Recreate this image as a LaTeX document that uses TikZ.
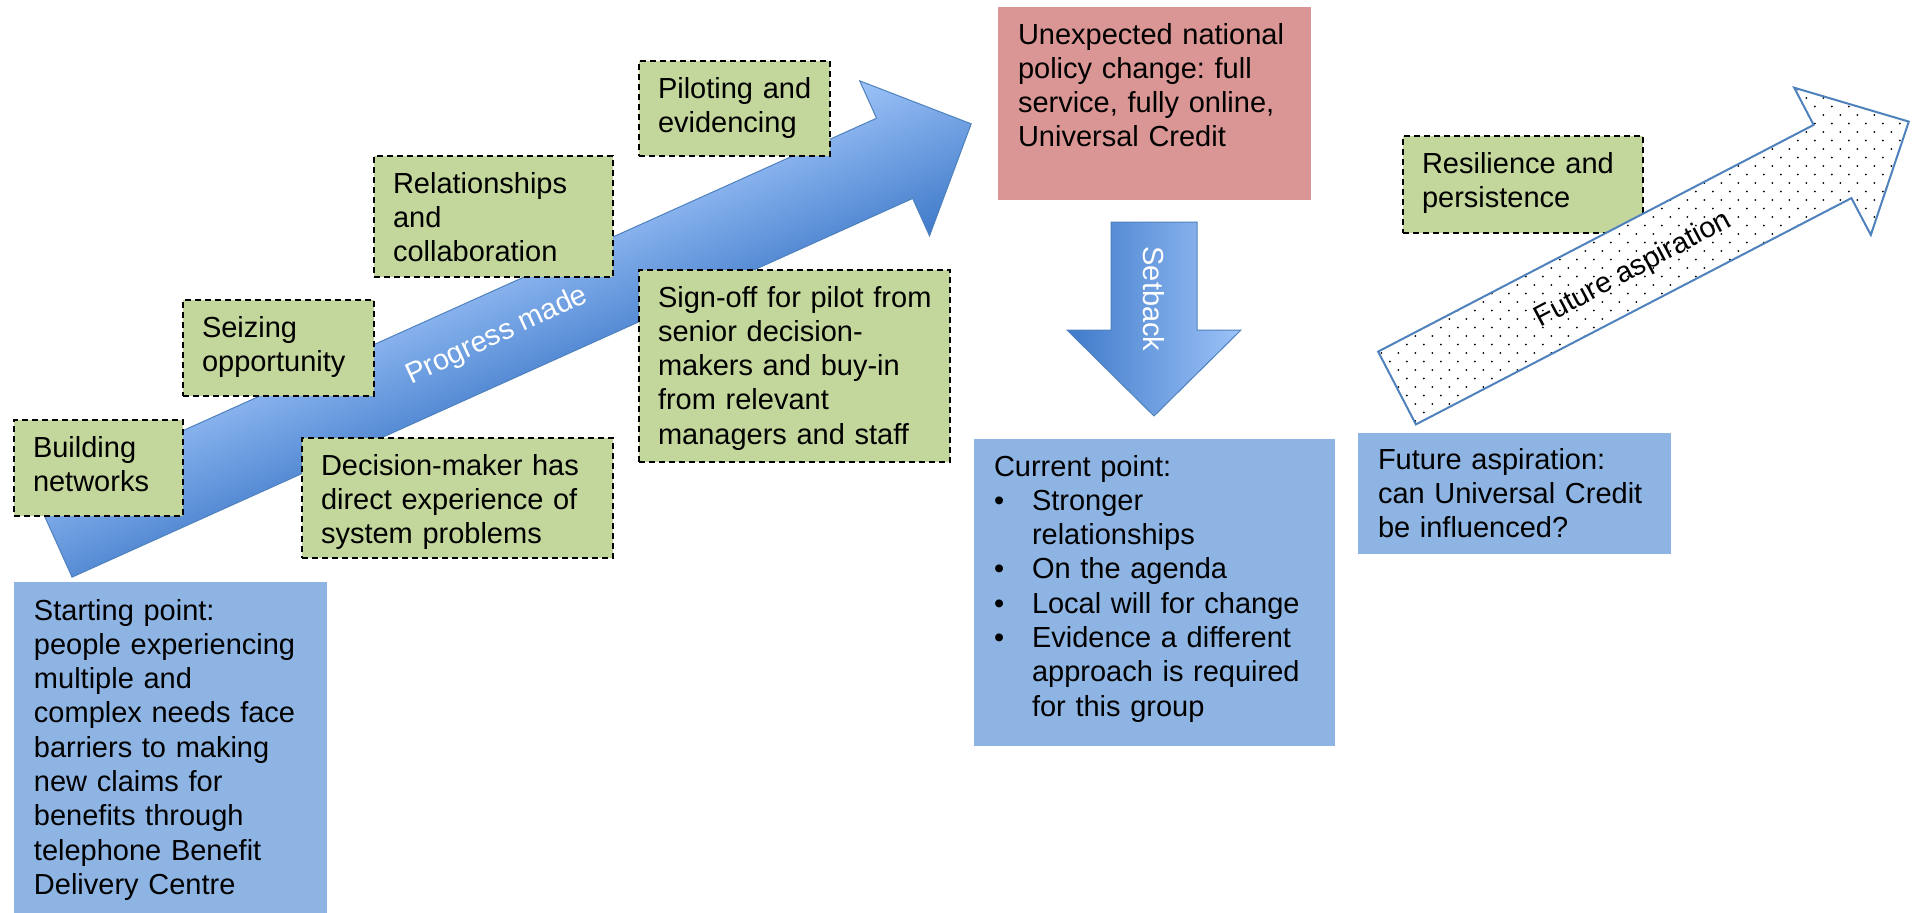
\documentclass[tikz,border=0pt]{standalone}
\usepackage{fontspec}
\setmainfont{Liberation Sans}
\frenchspacing
\definecolor{greenfill}{HTML}{C3D69B}
\definecolor{bluefill}{HTML}{8EB4E3}
\definecolor{redfill}{HTML}{D99694}
\definecolor{arrowline}{HTML}{4F81BD}
\definecolor{arrowlight}{HTML}{9DC3F8}
\definecolor{arrowdark}{HTML}{3F7AC9}
\begin{document}
\begin{tikzpicture}[x=1pt,y=-1pt,
  box/.style={anchor=north west, inner sep=0pt, outer sep=0pt},
  greenbox/.style={box, fill=greenfill, draw=black, line width=1.5pt, dash pattern=on 6pt off 4pt},
  bluebox/.style={box, fill=bluefill},
  redbox/.style={box, fill=redfill},
  txt/.style={anchor=north west, inner sep=0pt, outer sep=0pt, align=left,
    font=\fontsize{29}{34.3}\selectfont, text width=#1},
  arrowtext/.style={inner sep=0pt, font=\fontsize{29}{34.3}\selectfont}
]
\useasboundingbox (0,0) rectangle (1912,913);

% Progress arrow
\begin{scope}[transform canvas={shift={(54,537)}, rotate=24.25}]
  \shade[top color=arrowlight, bottom color=arrowdark, draw=arrowline, line width=1pt]
    (0,-44) -- (922,-44) -- (922,-85) -- (1006,0) -- (922,85) -- (922,44) -- (0,44) -- cycle;
\end{scope}
\node[arrowtext, text=white, rotate=25] (progress) at (497,336) {Progress made};

% green boxes (left)
\node[greenbox, minimum width=169, minimum height=96] (build) at (14,420) {};
\node[txt=160pt] (buildT) at ([shift={(19,13)}]build.north west) {\strut Building\\networks};

\node[greenbox, minimum width=191, minimum height=96] (seize) at (183,300) {};
\node[txt=180pt] (seizeT) at ([shift={(19,13)}]seize.north west) {\strut Seizing\\opportunity};

\node[greenbox, minimum width=239, minimum height=121] (rel) at (374,156) {};
\node[txt=220pt] (relT) at ([shift={(19,13)}]rel.north west) {\strut Relationships\\and\\collaboration};

\node[greenbox, minimum width=191, minimum height=95] (pilot) at (639,61) {};
\node[txt=180pt] (pilotT) at ([shift={(19,13)}]pilot.north west) {\strut Piloting and\\evidencing};

\node[greenbox, minimum width=311, minimum height=120] (dec) at (302,438) {};
\node[txt=300pt] (decT) at ([shift={(19,13)}]dec.north west) {\strut Decision-maker has\\direct experience of\\system problems};

\node[greenbox, minimum width=311, minimum height=192] (sign) at (639,270) {};
\node[txt=300pt] (signT) at ([shift={(19,13)}]sign.north west) {\strut Sign-off for pilot from\\senior decision-\\makers and buy-in\\from relevant\\managers and staff};

% starting point
\node[bluebox, minimum width=313, minimum height=331] (start) at (14,582) {};
\node[txt=300pt] (startT) at ([shift={(20,14)}]start.north west) {\strut Starting point:\\people experiencing\\multiple and\\complex needs face\\barriers to making\\new claims for\\benefits through\\telephone Benefit\\Delivery Centre};

% unexpected
\node[redbox, minimum width=313, minimum height=193] (unexp) at (998,7) {};
\node[txt=300pt] (unexpT) at ([shift={(20,13)}]unexp.north west) {\strut Unexpected national\\policy change: full\\service, fully online,\\Universal Credit};

% setback arrow
\shade[left color=arrowdark, right color=arrowlight, draw=arrowline, line width=1pt]
  (1111,222) -- (1197,222) -- (1197,330) -- (1241,330) -- (1154,416) -- (1067,330) -- (1111,330) -- cycle;
\node[arrowtext, text=white, rotate=-90] (setback) at (1154,299) {Setback};

% current point
\node[bluebox, minimum width=361, minimum height=307] (cur) at (974,439) {};
\node[txt=350pt] (curT) at ([shift={(20,13)}]cur.north west) {\strut Current point:\\
\makebox[38pt][l]{\textbullet}Stronger\\
\hspace*{38pt}relationships\\
\makebox[38pt][l]{\textbullet}On the agenda\\
\makebox[38pt][l]{\textbullet}Local will for change\\
\makebox[38pt][l]{\textbullet}Evidence a different\\
\hspace*{38pt}approach is required\\
\hspace*{38pt}for this group};

% resilience
\node[greenbox, minimum width=240, minimum height=97] (res) at (1403,136) {};
\node[txt=230pt] (resT) at ([shift={(19,13)}]res.north west) {\strut Resilience and\\persistence};

% future arrow
\coordinate (fa) at (1378.1,351.6);
\coordinate (fb) at (1813.6,124.9);
\coordinate (fc) at (1794.2,87.7);
\coordinate (fd) at (1908.8,121.6);
\coordinate (fe) at (1870.8,234.9);
\coordinate (ff) at (1851.4,198.1);
\coordinate (fg) at (1415.9,424.4);
\fill[white] (fa) -- (fb) -- (fc) -- (fd) -- (fe) -- (ff) -- (fg) -- cycle;
\begin{scope}
  \clip (fa) -- (fb) -- (fc) -- (fd) -- (fe) -- (ff) -- (fg) -- cycle;
  \foreach \k in {0,...,42}{
    \pgfmathsetmacro\yy{81+8.5*\k}
    \pgfmathsetmacro\off{8.5*mod(\k,2)}
    \foreach \j in {0,...,33}{
      \fill[black] ({1364.3+17*\j+\off},\yy) circle[radius=1pt];
    }
  }
\end{scope}
\draw[arrowline, line width=2pt, line join=miter] (fa) -- (fb) -- (fc) -- (fd) -- (fe) -- (ff) -- (fg) -- cycle;
\node[arrowtext, text=black, rotate=28] (future) at (1633,270) {Future aspiration};

% future box
\node[bluebox, minimum width=313, minimum height=121] (fut) at (1358,433) {};
\node[txt=300pt] (futT) at ([shift={(20,12)}]fut.north west) {\strut Future aspiration:\\can Universal Credit\\be influenced?};
\end{tikzpicture}
\end{document}
